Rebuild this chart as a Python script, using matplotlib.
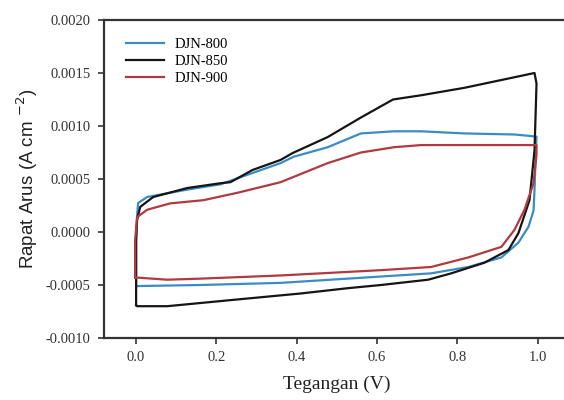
#!/usr/bin/env python3
import matplotlib
matplotlib.use('Agg')
import matplotlib.pyplot as plt

# CV curves: potential (V), current density (A cm^-2)
v_800 = [0.0, 0.0, 0.0025, 0.005, 0.0275, 0.1275, 0.21, 0.2925, 0.36, 0.3925, 0.4775,
         0.56, 0.6425, 0.71, 0.8175, 0.9425, 0.9975, 0.995, 0.9925, 0.99, 0.9775, 0.9525,
         0.91, 0.8275, 0.735, 0.61, 0.36, 0.16, 0.0025, 0.0]
j_800 = [-0.00051, -0.000075, 0.00016, 0.000274, 0.00033, 0.0004, 0.00045, 0.00056, 0.00065,
         0.00071, 0.0008, 0.00093, 0.00095, 0.00095, 0.00093, 0.00092, 0.0009, 0.00068, 0.0004,
         0.0002, 0.00005, -0.0001, -0.00024, -0.00033, -0.00039, -0.00042, -0.00048, -0.0005,
         -0.00051, -0.00051]

v_850 = [0.0, 0.0, 0.0025, 0.01, 0.0425, 0.1275, 0.21, 0.235, 0.29, 0.36, 0.39, 0.4775, 0.56,
         0.64, 0.71, 0.8175, 0.8925, 0.9425, 0.9925, 0.9975, 0.9925, 0.98, 0.9525, 0.9275,
         0.8675, 0.785, 0.7275, 0.61, 0.5275, 0.41, 0.2425, 0.0775, 0.0025, 0.0]
j_850 = [-0.00069, -0.000075, 0.000113, 0.000236, 0.00033, 0.000415, 0.00046, 0.00047,
         0.000585, 0.00068, 0.000745, 0.000896, 0.00108, 0.00125, 0.00129, 0.00136, 0.00142,
         0.00146, 0.0015, 0.0014, 0.00077, 0.0003, -0.00001, -0.00017, -0.00029, -0.00039,
         -0.00045, -0.0005, -0.00053, -0.00058, -0.00064, -0.0007, -0.0007, -0.00069]

v_900 = [-0.0025, -0.0025, 0.0025, 0.0275, 0.085, 0.1675, 0.2525, 0.36, 0.3925, 0.4775, 0.56,
         0.6425, 0.71, 0.8175, 0.9975, 0.9975, 0.99, 0.9675, 0.9425, 0.91, 0.8275, 0.735,
         0.61, 0.36, 0.16, 0.0775, 0.0025, -0.0025]
j_900 = [-0.00043, -0.000075, 0.00014, 0.00021, 0.00027, 0.0003, 0.00037, 0.00047, 0.00052,
         0.00065, 0.00075, 0.0008, 0.00082, 0.00082, 0.00082, 0.00073, 0.00046, 0.00021,
         0.00002, -0.00014, -0.00024, -0.00033, -0.00036, -0.00041, -0.00044, -0.00045,
         -0.00043, -0.00043]

labels = ['DJN-800', 'DJN-850', 'DJN-900']
x_ticks = [0.0, 0.2, 0.4, 0.6, 0.8, 1.0]
y_ticks = [-0.0010, -0.0005, 0.0, 0.0005, 0.0010, 0.0015, 0.0020]

serif = ['Liberation Serif', 'DejaVu Serif']

fig = plt.figure(figsize=(5.64, 4.0), dpi=100)
ax = fig.add_axes([104 / 564, 62 / 400, 1 - 104 / 564 + 0.01, 318 / 400])

ax.plot(v_800, j_800, color='#3b8cc4', lw=1.6, label=labels[0])
ax.plot(v_850, j_850, color='#151515', lw=1.6, label=labels[1])
ax.plot(v_900, j_900, color='#b03a3e', lw=1.6, label=labels[2])

ax.set_xlim(-0.08, 1.08)
ax.set_ylim(-0.001, 0.002)
ax.set_xticks(x_ticks)
ax.set_xticklabels([f'{t:.1f}' for t in x_ticks], family=serif, fontsize=10.5, color='#333333')
ax.set_yticks(y_ticks)
ax.set_yticklabels([f'{t:.4f}' for t in y_ticks], family=serif, fontsize=10.5, color='#333333')
ax.tick_params(direction='out', length=4.5, width=1.2, color='#333333', pad=5)

for s in ['left', 'bottom', 'top']:
    ax.spines[s].set_linewidth(1.6)
    ax.spines[s].set_color('#333333')
ax.spines['right'].set_visible(False)

ax.set_xlabel('Tegangan (V)', family=serif, fontsize=14, color='#222222', labelpad=8)
ax.set_ylabel('Rapat Arus (A cm $^{-2}$)', family=['Liberation Sans', 'DejaVu Sans'],
              fontsize=13.5, color='#222222', labelpad=4)

leg = ax.legend(loc='upper left', bbox_to_anchor=(0.02, 0.985), frameon=False,
                prop={'family': serif, 'size': 10.5}, handlelength=2.6,
                labelspacing=0.25, handletextpad=0.7)

fig.savefig('out.png', dpi=100)
